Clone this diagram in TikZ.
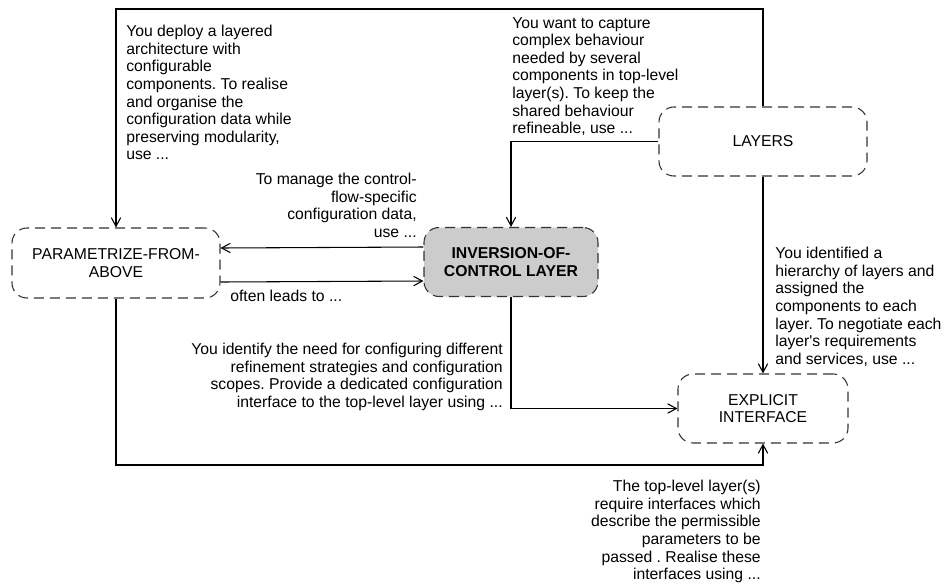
\documentclass[tikz,border=0pt]{standalone}
\usepackage{fontspec}
\setmainfont{Liberation Sans}
\usepackage{tikz}
\usetikzlibrary{arrows.meta}
\definecolor{musterGri}{HTML}{CCCCCC}
\definecolor{kenarGri}{HTML}{333333}
\frenchspacing

\begin{document}
\begin{tikzpicture}[x=0.75pt,y=-0.75pt,
  font=\fontsize{11.8pt}{13.2pt}\selectfont,
  pattern/.style={draw=kenarGri,line width=0.8pt,dash pattern=on 7.5pt off 4.5pt,
    rounded corners=11.25pt,align=center,inner sep=0pt},
  mainpattern/.style={pattern,fill=musterGri,font=\fontsize{11.8pt}{13.2pt}\selectfont\bfseries},
  flow/.style={draw,line width=0.8pt,-{Straight Barb[length=6.5pt,width=7pt]}},
  note/.style={inner sep=0pt}]
\useasboundingbox (0,0) rectangle (946,583);
% patterns
\node[pattern,minimum width=156pt,minimum height=52.5pt] (pfa) at (116,263) {PARAMETRIZE-FROM-\\ABOVE};
\node[mainpattern,minimum width=130.5pt,minimum height=51.75pt] (ioc) at (511,262) {INVERSION-OF-\\CONTROL LAYER};
\node[pattern,minimum width=156pt,minimum height=51.75pt] (layers) at (763,141.5) {LAYERS};
\node[pattern,minimum width=127.5pt,minimum height=51.75pt] (expl) at (763,408.5) {EXPLICIT\\INTERFACE};
\coordinate (top) at (0,9);
\coordinate (bot) at (0,465);
% relations
\draw[flow] (layers.north) -- (layers.north |- top) -| (pfa.north);
\draw[flow] (layers.west) -| (ioc.north);
\draw[flow] ([yshift=11.25pt]ioc.west) -- ([yshift=11.25pt]pfa.east);
\draw[flow] ([yshift=-14.25pt]pfa.east) -- ([yshift=-14.25pt]ioc.west);
\draw[flow] (ioc.south) |- (expl.west);
\draw[flow] (layers.south) -- (expl.north);
\draw[flow] (pfa.south) -- (pfa.south |- bot) -| (expl.south);
% labels
\node[note,anchor=north west,align=left] (lblDeploy) at (126,25) {You deploy a layered\\architecture with\\configurable\\components. To realise\\and organise the\\configuration data while\\preserving modularity,\\use ...};
\node[note,anchor=north west,align=left] (lblCapture) at (512,17) {You want to capture\\complex behaviour\\needed by several\\components in top-level\\layer(s). To keep the\\shared behaviour\\refineable, use ...};
\node[note,anchor=north east,align=right] (lblManage) at (417,173) {To manage the control-\\flow-specific\\configuration data,\\use ...};
\node[note,anchor=north west] (lblOften) at (230,290) {often leads to ...};
\node[note,anchor=north east,align=right] (lblIdentify) at (503,343) {You identify the need for configuring different\\refinement strategies and configuration\\scopes. Provide a dedicated configuration\\interface to the top-level layer using ...};
\node[note,anchor=north west,align=left] (lblHierarchy) at (775,247) {You identified a\\hierarchy of layers and\\assigned the\\components to each\\layer. To negotiate each\\layer\textquotesingle s requirements\\and services, use ...};
\node[note,anchor=north east,align=right] (lblTopLevel) at (761,480) {The top-level layer(s)\\require interfaces which\\describe the permissible\\parameters to be\\passed . Realise these\\interfaces using ...};
\end{tikzpicture}
\end{document}
